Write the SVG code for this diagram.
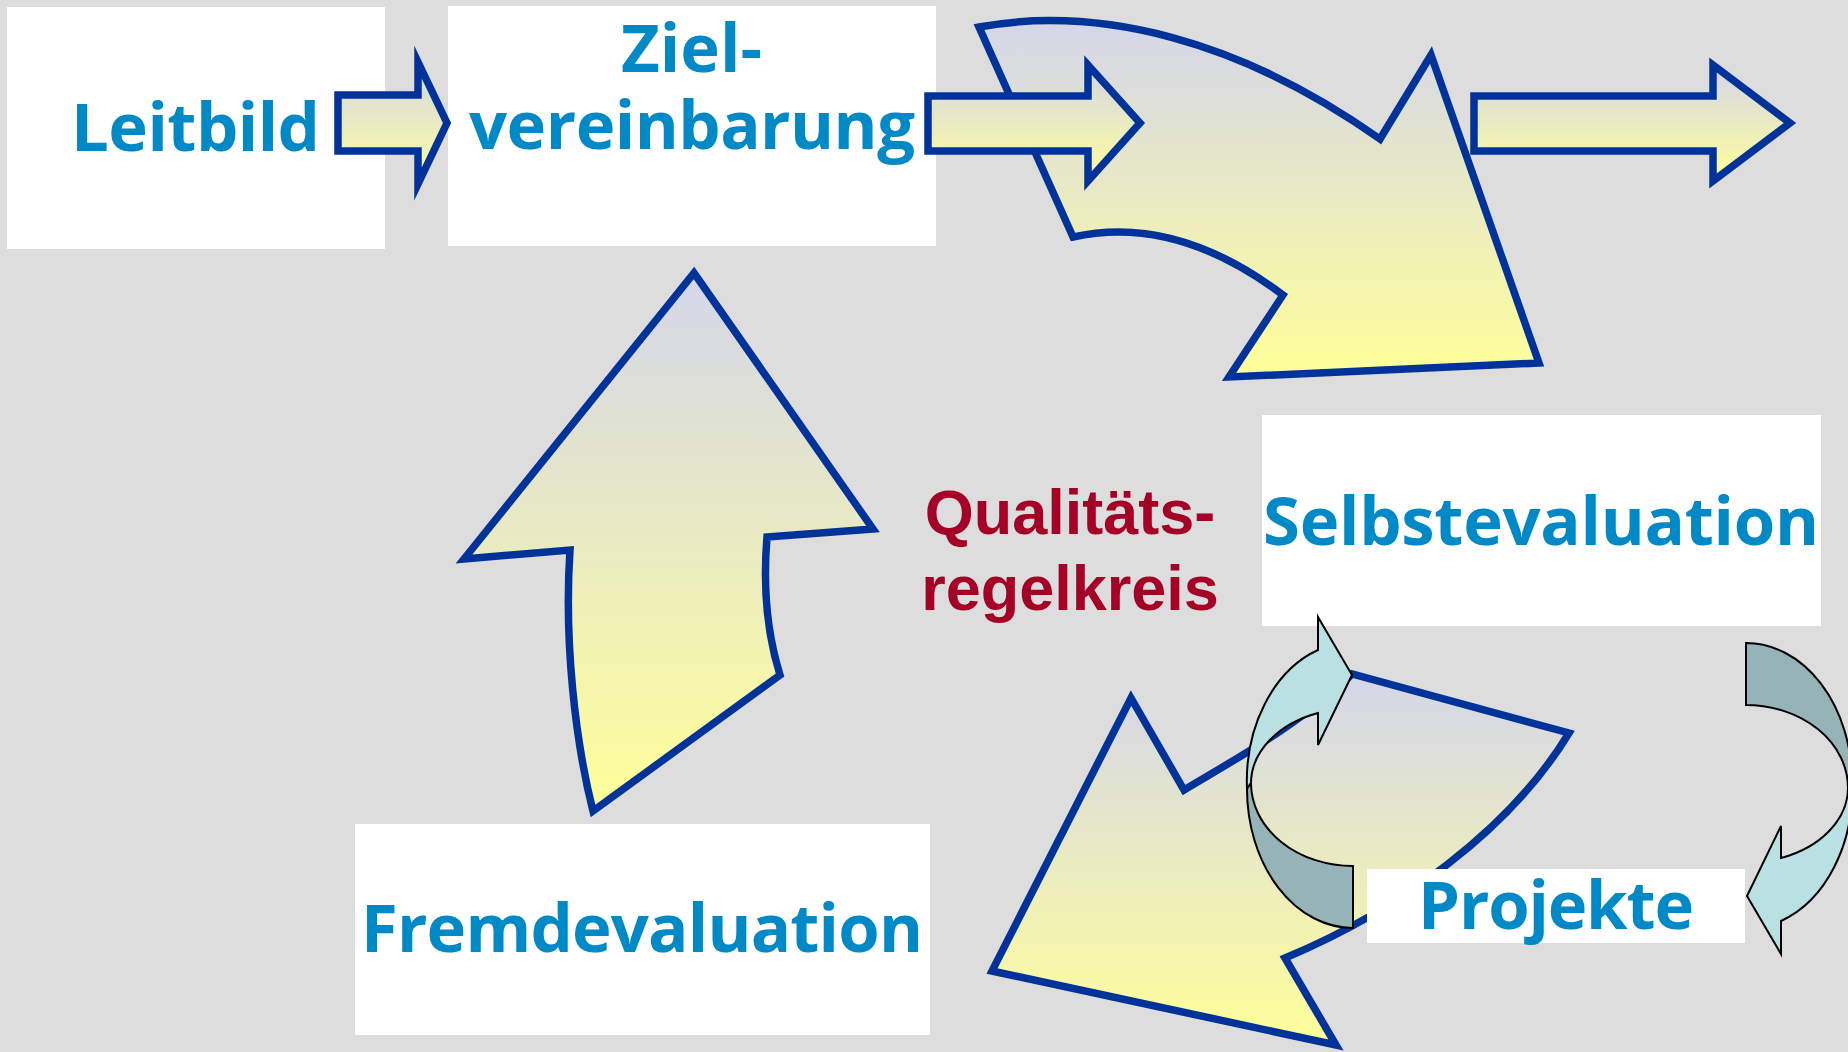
<svg xmlns="http://www.w3.org/2000/svg" width="1848" height="1052" viewBox="0 0 1848 1052">
<defs>
<linearGradient id="grad" x1="0" y1="0" x2="0" y2="1">
<stop offset="0" stop-color="#D4D6EA"/>
<stop offset="1" stop-color="#FFFF99"/>
</linearGradient>
<g id="cycle">
<path class="light" d="M1318,617 L1352,675 L1318,745 L1318,713 A102,75 0 0 0 1251,783 L1247,789 A106,139 0 0 1 1318,650 Z"/>
<path class="dark" d="M1247,789 A106,139 0 0 0 1353,928 L1353,866 A102,83 0 0 1 1251,783 Z"/>
</g>
</defs>
<style>
.box{fill:#FFFFFF;}
.lbl{font-family:"Open Sans","Noto Sans","DejaVu Sans",sans-serif;font-weight:bold;font-size:67px;fill:#0089C7;}
.red{font-family:"Liberation Sans",Arial,sans-serif;font-weight:bold;font-size:63px;fill:#A50026;text-anchor:middle;}
.arrow{fill:url(#grad);stroke:#003399;stroke-width:7.5;stroke-linejoin:miter;stroke-miterlimit:10;}
.light{fill:#B9E0E3;stroke:#000000;stroke-width:2;}
.dark{fill:#96B4B7;stroke:#000000;stroke-width:2;}
</style>
<rect x="0" y="0" width="1848" height="1052" fill="#DDDDDD"/>

<g id="node-leitbild">
<rect class="box" x="7" y="7" width="378" height="242"/>
<text class="lbl" x="71" y="151" textLength="249" lengthAdjust="spacing">Leitbild</text>
</g>
<g id="node-zielvereinbarung">
<rect class="box" x="448" y="6" width="488" height="240"/>
<text class="lbl" x="621" y="72" textLength="141" lengthAdjust="spacing">Ziel-</text>
<text class="lbl" x="469" y="149" textLength="446" lengthAdjust="spacing">vereinbarung</text>
</g>
<g id="node-fremdevaluation">
<rect class="box" x="355" y="824" width="575" height="211"/>
<text class="lbl" x="361" y="952" textLength="562" lengthAdjust="spacing">Fremdevaluation</text>
</g>
<g id="node-selbstevaluation">
<rect class="box" x="1262" y="415" width="559" height="211"/>
<text class="lbl" x="1263" y="545" textLength="556" lengthAdjust="spacing">Selbstevaluation</text>
</g>

<g id="connectors">
<path class="arrow" d="M338,95 L418,95 L418,62 L447,123 L418,184 L418,151 L338,151 Z"/>
<path class="arrow" d="M979,27 C1100,5 1240,40 1380,139 L1431,55 L1539,363 L1229,377 L1283,295 C1210,240 1140,222 1073,237 Z"/>
<path class="arrow" d="M928,96 L1088,96 L1088,65 L1140,123 L1088,181 L1088,151 L928,151 Z"/>
<path class="arrow" d="M1474,96 L1713,96 L1713,65 L1790,123 L1713,181 L1713,151 L1474,151 Z"/>
<path class="arrow" d="M694,273 L873,529 L767,537 C763,585 766,630 780,675 L593,811 C575,740 564,640 570,550 L464,559 Z"/>
<path class="arrow" d="M1131,698 L1184,790 C1225,765 1300,725 1352,674 L1569,733 C1510,830 1400,910 1285,958 L1336,1045 L992,971 Z"/>
<use href="#cycle"/>
<use href="#cycle" transform="rotate(180 1549.5 785.5)"/>
</g>

<g id="node-projekte">
<rect class="box" x="1367" y="869" width="378" height="74"/>
<text class="lbl" x="1418" y="929" textLength="276" lengthAdjust="spacing">Projekte</text>
</g>

<g id="node-qualitaetsregelkreis">
<text class="red" x="1070" y="534">Qualitäts-</text>
<text class="red" x="1070" y="610">regelkreis</text>
</g>
</svg>
